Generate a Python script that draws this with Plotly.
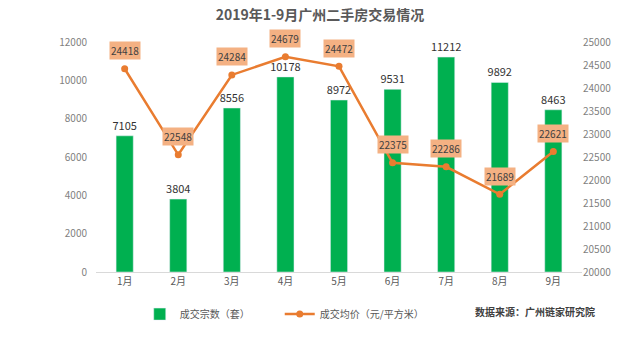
import plotly.graph_objects as go

months = ["1月", "2月", "3月", "4月", "5月", "6月", "7月", "8月", "9月"]
volume = [7105, 3804, 8556, 10178, 8972, 9531, 11212, 9892, 8463]
price = [24418, 22548, 24284, 24679, 24472, 22375, 22286, 21689, 22621]

FONT = "Noto Sans CJK SC"
GREEN = "#00B050"
ORANGE = "#E97C30"
BOXFILL = "#F4B183"

fig = go.Figure()
fig.add_trace(go.Bar(
    x=months, y=volume, name="成交宗数（套）",
    marker=dict(color=GREEN), width=0.32,
    text=[str(v) for v in volume], textposition="outside",
    constraintext="none",
    textfont=dict(family=FONT, size=11, color="#333333"),
    cliponaxis=False,
))
fig.add_trace(go.Scatter(
    x=months, y=price, name="成交均价（元/平方米）", yaxis="y2",
    mode="lines+markers",
    line=dict(color=ORANGE, width=2.5),
    marker=dict(color=ORANGE, size=7),
))

for m, p in zip(months, price):
    fig.add_annotation(
        x=m, y=p, xref="x", yref="y2", text=str(p), showarrow=False,
        yshift=18, bgcolor=BOXFILL, borderpad=1,
        font=dict(family=FONT, size=10, color="#404040"),
    )

fig.add_annotation(
    x=1.03, xref="paper", xanchor="right", y=-0.13, yref="paper", yanchor="top",
    text="<b>数据来源：广州链家研究院</b>",
    showarrow=False, font=dict(family=FONT, size=10, color="#404040"),
)

fig.update_layout(
    width=640, height=341,
    margin=dict(l=96, r=58, t=42, b=62),
    paper_bgcolor="white", plot_bgcolor="white",
    title=dict(text="<b>2019年1-9月广州二手房交易情况</b>", x=0.5, xanchor="center",
               y=0.955, yanchor="middle",
               font=dict(family=FONT, size=14, color="#595959")),
    font=dict(family=FONT, size=10, color="#7F7F7F"),
    showlegend=True,
    legend=dict(orientation="h", x=0.09, xanchor="left", y=-0.12, yanchor="top",
                font=dict(family=FONT, size=10, color="#595959"),
                itemwidth=30, entrywidth=95, bgcolor="rgba(0,0,0,0)"),
    xaxis=dict(showgrid=False, showline=True, linecolor="#D9D9D9", linewidth=1,
               ticks="", tickfont=dict(family=FONT, size=10, color="#595959")),
    yaxis=dict(range=[0, 12000], dtick=2000, showgrid=False, zeroline=False,
               ticks="", tickformat="d", ticklabelstandoff=8,
               tickfont=dict(family=FONT, size=10, color="#7F7F7F")),
    yaxis2=dict(range=[20000, 25000], dtick=500, overlaying="y", side="right",
                showgrid=False, zeroline=False, ticks="", tickformat="d",
                tickfont=dict(family=FONT, size=10, color="#7F7F7F")),
    bargap=0.68,
)

fig.write_html("out.html")
